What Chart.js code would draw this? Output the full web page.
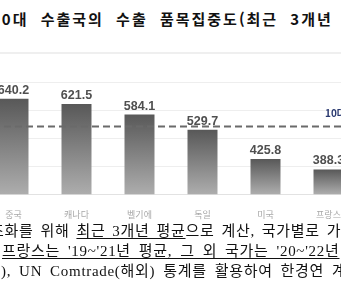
<!DOCTYPE html>
<html lang="ko">
<head>
<meta charset="utf-8">
<script src="https://cdn.jsdelivr.net/npm/chart.js@4"></script>
<style>
  html, body { margin: 0; padding: 0; background: #fff; }
  body { width: 341px; height: 282px; overflow: hidden; position: relative; }
  #title {
    position: absolute; left: -9px; top: 8px; white-space: nowrap;
    font: bold 15px "Noto Sans CJK KR", sans-serif; letter-spacing: 2px; word-spacing: 6px; color: #111;
  }
  #sep { position: absolute; left: 0; top: 52px; width: 341px; height: 2px; background: #efefef; }
  #chartBox { position: absolute; left: -18px; top: 70px; width: 378px; height: 157px; }
  .note {
    position: absolute; white-space: nowrap; color: #111;
    font: 15px "Liberation Serif", "Noto Sans CJK KR", serif; line-height: 18px;
    letter-spacing: 0.7px; word-spacing: 3.5px;
  }
  .note u { text-underline-offset: 2px; }
</style>
</head>
<body>
<div id="title">10대 수출국의 수출 품목집중도(최근 3개년 평균)</div>
<div id="sep"></div>
<div id="chartBox"><canvas id="chart"></canvas></div>
<div class="note" style="left:-10px; top:222px; word-spacing:2.5px;">조화를 위해 <u>최근 3개년 평균</u>으로 계산, 국가별로 가용</div>
<div class="note" style="left:2px; top:242px;"><u>프랑스는 '19~'21년 평균, 그 외 국가는 '20~'22년</u></div>
<div class="note" style="left:1px; top:262px;">), UN Comtrade(해외) 통계를 활용하여 한경연 계산</div>
<script>
// 데이터
const countries = ['중국', '캐나다', '벨기에', '독일', '미국', '프랑스'];
const concentration = [640.2, 621.5, 584.1, 529.7, 425.8, 388.3];
const averageValue = 541;
const averageLabel = '10대 평균';

// 막대별 세로 그라데이션
function barGradient(context) {
  const chart = context.chart;
  const { ctx, chartArea, scales } = chart;
  if (!chartArea || context.raw === undefined) return '#888';
  const top = scales.y.getPixelForValue(context.raw);
  const g = ctx.createLinearGradient(0, top, 0, chartArea.bottom);
  g.addColorStop(0, '#585858');
  g.addColorStop(1, '#adadad');
  return g;
}

// 값 라벨 + 평균 점선
const overlayPlugin = {
  id: 'overlay',
  afterDatasetsDraw(chart) {
    const { ctx, chartArea, scales } = chart;
    const meta = chart.getDatasetMeta(0);
    ctx.save();
    ctx.font = 'bold 12.5px "Liberation Sans", Arial, sans-serif';
    ctx.fillStyle = '#4f4f4f';
    ctx.textAlign = 'center';
    ctx.textBaseline = 'alphabetic';
    meta.data.forEach((bar, i) => {
      ctx.fillText(concentration[i].toFixed(1), bar.x, bar.y - 5);
    });

    const yAvg = scales.y.getPixelForValue(averageValue);
    ctx.strokeStyle = '#6a6a6a';
    ctx.lineWidth = 2;
    ctx.setLineDash([7, 4]);
    ctx.beginPath();
    ctx.moveTo(chartArea.left, yAvg);
    ctx.lineTo(chartArea.right, yAvg);
    ctx.stroke();
    ctx.setLineDash([]);

    ctx.font = 'bold 10px "Noto Sans CJK KR", sans-serif';
    ctx.fillStyle = '#2b3a70';
    ctx.textAlign = 'left';
    ctx.fillText(averageLabel, chartArea.right - 35, yAvg - 10);
    ctx.restore();
  }
};

new Chart(document.getElementById('chart'), {
  type: 'bar',
  data: {
    labels: countries,
    datasets: [{
      data: concentration,
      backgroundColor: barGradient,
      borderWidth: 0,
      barPercentage: 0.476,
      categoryPercentage: 1
    }]
  },
  options: {
    responsive: true,
    maintainAspectRatio: false,
    animation: false,
    layout: { padding: { top: 12, left: 0, right: 0, bottom: 0 } },
    plugins: { legend: { display: false }, tooltip: { enabled: false } },
    scales: {
      x: {
        grid: { display: false },
        border: { color: '#e2e2e2', width: 1 },
        ticks: { color: '#a8a8a8', padding: 7, font: { size: 9, family: '"Noto Sans CJK KR", sans-serif' } }
      },
      y: {
        min: 300,
        max: 700,
        border: { display: false },
        grid: { color: '#eeeeee', drawTicks: false },
        ticks: { display: false, stepSize: 100 }
      }
    }
  },
  plugins: [overlayPlugin]
});
</script>
</body>
</html>
